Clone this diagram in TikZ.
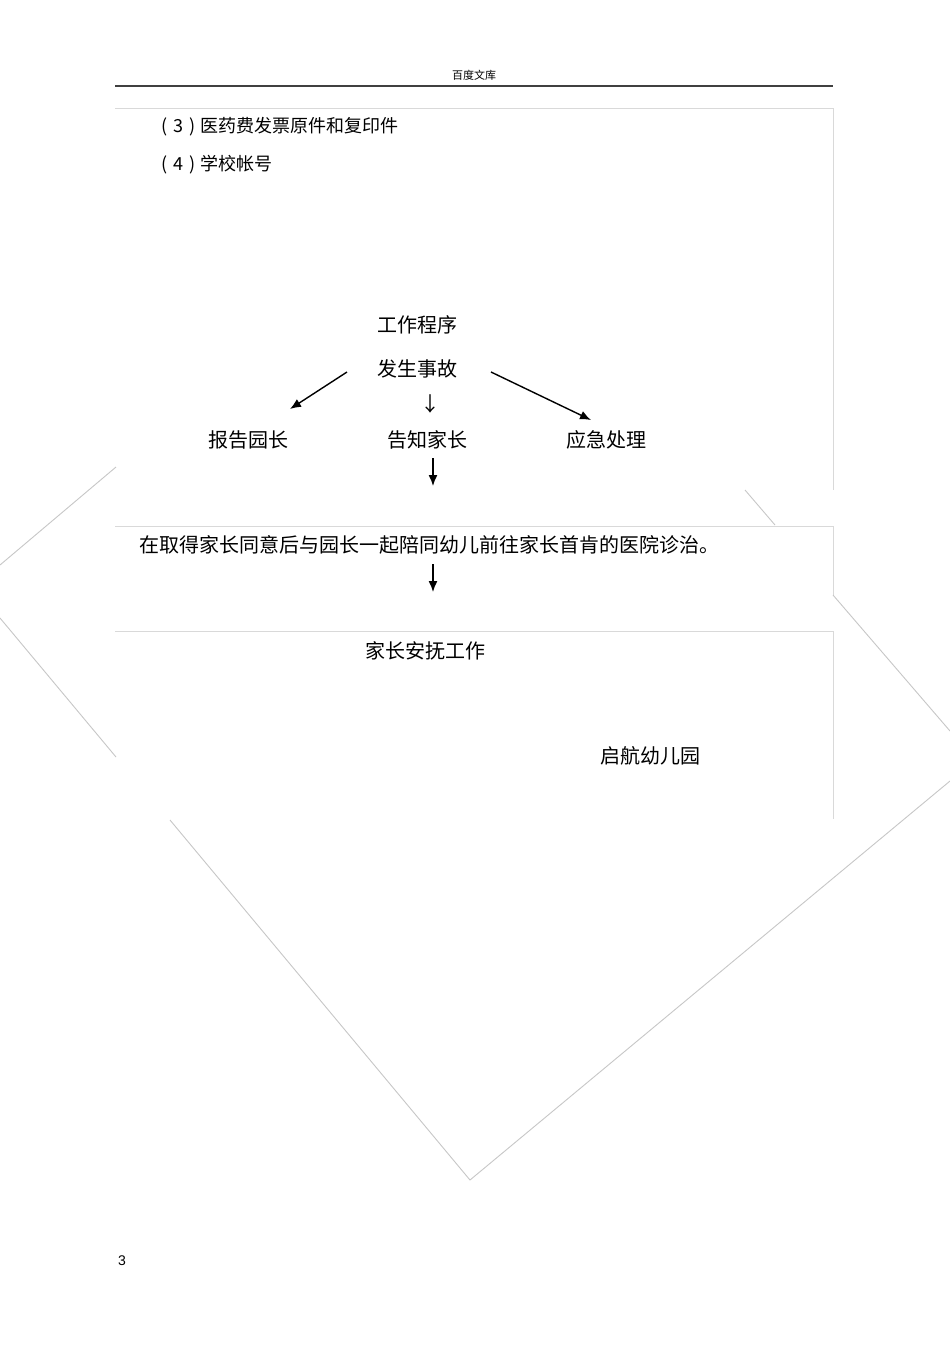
\documentclass[tikz,border=0pt]{standalone}
\usepackage{fontspec}
\setmainfont{Noto Sans CJK SC}
\newfontfamily\latinsans{Liberation Sans}
\usetikzlibrary{arrows.meta}
\begin{document}
\begin{tikzpicture}[x=1pt,y=-1pt,
  txt/.style={inner sep=0pt, font=\fontsize{20}{24}\selectfont},
  small/.style={inner sep=0pt, font=\fontsize{18}{21}\selectfont},
  flowarrow/.style={draw=black, line width=1.4pt, -{Latex[length=11pt,width=9pt]}},
  scanline/.style={draw=black!22, line width=0.9pt},
  frameline/.style={draw=black!15, line width=1pt}]
\useasboundingbox (0,0) rectangle (950,1345);
\fill[white] (0,0) rectangle (950,1345);

% header
\node[inner sep=0pt, font=\fontsize{11}{13}\selectfont] (hdr) at (474,75) {百度文库};
\draw[black!75, line width=1.3pt] (115,86) -- (833,86);

% faint frame lines of the scanned page
\draw[frameline] (115,108) -- (833,108) -- (833,490);
\draw[frameline] (115,526) -- (833,526) -- (833,595);
\draw[frameline] (115,631) -- (833,631) -- (833,819);

% faint diagonal scan lines
\draw[scanline] (116,467) -- (0,565);
\draw[scanline] (0,618) -- (116,757);
\draw[scanline] (170,820) -- (470,1180) -- (950,781);
\draw[scanline] (745,490) -- (775,525);
\draw[scanline] (833,595) -- (950,731);

% list items
\node[small, anchor=west] (item3) at (161,127) {(\hspace{0.35em}3\hspace{0.35em})\hspace{0.25em}医药费发票原件和复印件};
\node[small, anchor=west] (item4) at (161,165) {(\hspace{0.35em}4\hspace{0.35em})\hspace{0.25em}学校帐号};

% flow
\node[txt] (title) at (417,325) {工作程序};
\node[txt] (event) at (417,369) {发生事故};
\node[txt] (down) at (430,404) {↓};
\node[txt] (report) at (248,440) {报告园长};
\node[txt] (inform) at (427,440) {告知家长};
\node[txt] (emerg) at (606,440) {应急处理};
\node[txt, anchor=west] (visit) at (139,545) {在取得家长同意后与园长一起陪同幼儿前往家长首肯的医院诊治。};
\node[txt] (comfort) at (425,651) {家长安抚工作};
\node[txt] (school) at (650,756) {启航幼儿园};

% arrows
\coordinate (a1s) at (347,372); \coordinate (a1e) at (290,409);
\coordinate (a2s) at (491,372); \coordinate (a2e) at (591,420);
\coordinate (a3s) at (433,458); \coordinate (a3e) at (433,486);
\coordinate (a4s) at (433,564); \coordinate (a4e) at (433,592);
\draw[flowarrow] (a1s) -- (a1e);
\draw[flowarrow] (a2s) -- (a2e);
\draw[flowarrow] (a3s) -- (a3e);
\draw[flowarrow] (a4s) -- (a4e);

% page number
\node[inner sep=0pt, font=\latinsans\fontsize{14}{16}\selectfont] (pnum) at (122,1261) {3};
\end{tikzpicture}
\end{document}
